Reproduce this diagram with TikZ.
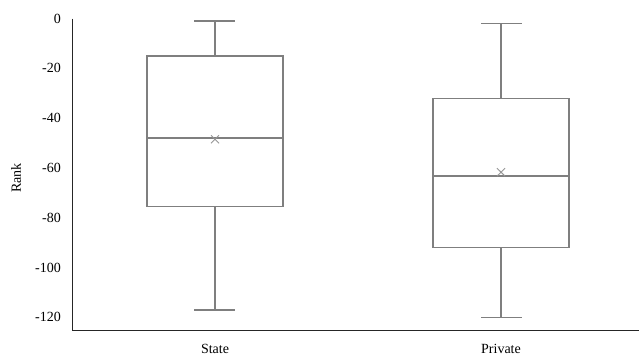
\documentclass[tikz,border=0pt]{standalone}
\usepackage{fontspec}
\setmainfont{Liberation Serif}
\usepackage{tikz}
\usetikzlibrary{calc}

\definecolor{boxgray}{RGB}{127,127,127}
\definecolor{markgray}{RGB}{150,150,150}

\begin{document}
\begin{tikzpicture}[x=1pt, y=2.49pt,
    axis/.style={draw=black!85, line width=1pt},
    whisker/.style={draw=boxgray, line width=1.6pt},
    quartile/.style={draw=boxgray, line width=1.3pt},
    meanmark/.style={draw=markgray, line width=0.9pt},
    ticklabel/.style={anchor=east, inner sep=0pt, font=\fontsize{14}{14}\selectfont},
    catlabel/.style={inner sep=0pt, font=\fontsize{14}{14}\selectfont}]

  \useasboundingbox (0,-135.94) rectangle (639,7.43);

  % axes
  \coordinate (O) at (72,-125.1);
  \coordinate (T) at (72,0);
  \coordinate (E) at (639,-125.1);
  \draw[axis] (T) -- (O) -- (E);

  \foreach \v in {0,-20,-40,-60,-80,-100,-120}
    \node[ticklabel] (tick\v) at (61,\v) {\v};

  \node[catlabel, rotate=90] (rank) at (16,-64) {Rank};

  % State
  \draw[whisker] (215,-15) -- (215,-1);
  \draw[whisker] (194,-1) -- (235,-1);
  \draw[whisker] (215,-75.5) -- (215,-117);
  \draw[whisker] (194,-117) -- (235,-117);
  \draw[quartile] (147,-15) rectangle (283,-75.5);
  \draw[whisker] (147,-48) -- (283,-48);
  \draw[meanmark] (211,-50.1) -- (219,-46.9) (211,-46.9) -- (219,-50.1);
  \node[catlabel] (state) at (215,-132.7) {State};

  % Private
  \draw[whisker] (501,-32) -- (501,-2);
  \draw[whisker] (481,-2) -- (522,-2);
  \draw[whisker] (501,-92) -- (501,-120);
  \draw[whisker] (481,-120) -- (522,-120);
  \draw[quartile] (433,-32) rectangle (569,-92);
  \draw[whisker] (433,-63.2) -- (569,-63.2);
  \draw[meanmark] (497,-63.3) -- (505,-60.1) (497,-60.1) -- (505,-63.3);
  \node[catlabel] (private) at (501,-132.7) {Private};
\end{tikzpicture}
\end{document}
